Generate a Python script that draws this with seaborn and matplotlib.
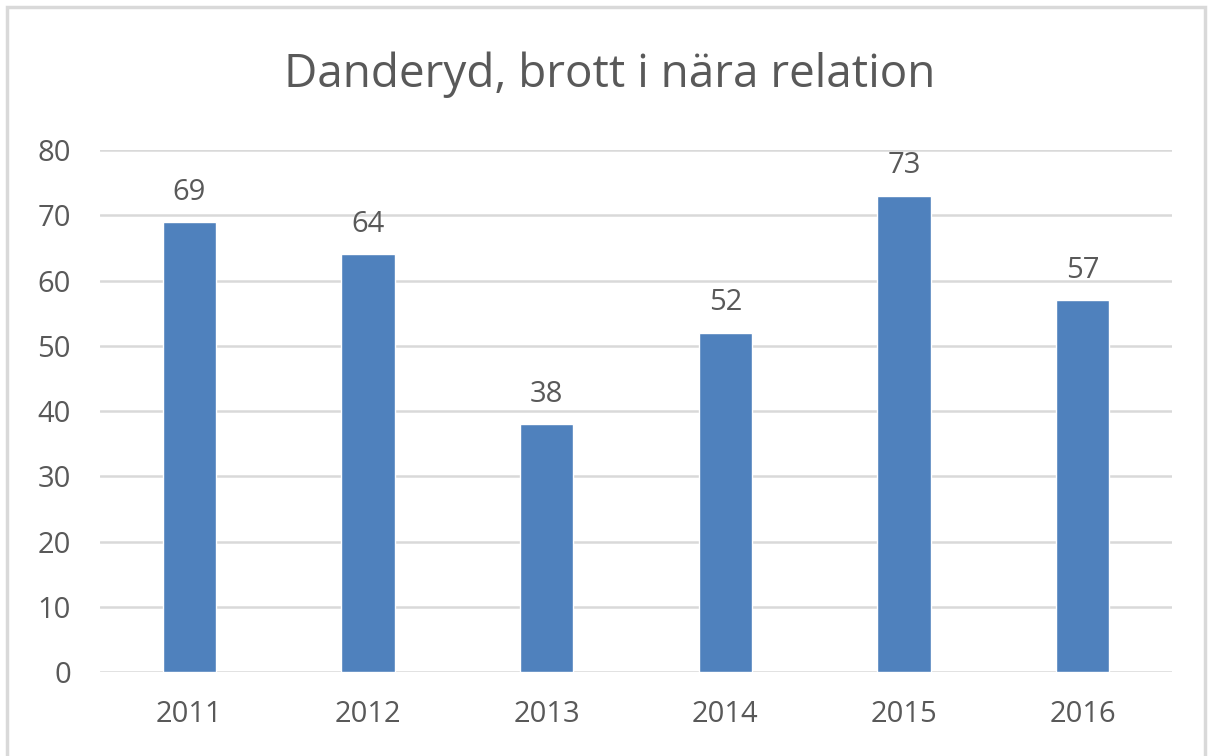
import pandas as pd
import matplotlib.pyplot as plt
import seaborn as sns
from matplotlib.patches import Rectangle

# Data
years = ['2011', '2012', '2013', '2014', '2015', '2016']
counts = [69, 64, 38, 52, 73, 57]
title = 'Danderyd, brott i nära relation'

df = pd.DataFrame({'year': years, 'count': counts})

sns.set_style('white')
plt.rcParams['font.family'] = ['Open Sans', 'DejaVu Sans']
text_color = '#595959'

fig = plt.figure(figsize=(12.12, 7.56), dpi=100)
ax = fig.add_axes([0.0825, 0.111, 0.8845, 0.6905])

sns.barplot(x='year', y='count', data=df, color='#4f81bd', saturation=1,
            width=0.30, ax=ax, zorder=3)

ax.set_ylim(0, 80)
ax.set_yticks(range(0, 81, 10))
ax.yaxis.grid(True, color='#d9d9d9', linewidth=1.8, zorder=0)
ax.set_axisbelow(True)
for s in ax.spines.values():
    s.set_visible(False)
ax.set_xlabel('')
ax.set_ylabel('')
ax.tick_params(axis='both', length=0, labelsize=21, colors=text_color)
ax.tick_params(axis='y', pad=21)
ax.tick_params(axis='x', pad=20)

# Data labels
for c in ax.containers:
    ax.bar_label(c, labels=[str(v) for v in counts], padding=11, fontsize=21,
                 color=text_color)

fig.text(0.503, 0.901, title, ha='center', va='center', fontsize=33, color=text_color)

# Chart border
fig.patches.append(Rectangle((0.0058, -0.05), 0.9884, 1.0407, transform=fig.transFigure,
                             fill=False, edgecolor='#d9d9d9', linewidth=2.5))

plt.savefig('out.png', dpi=100)
